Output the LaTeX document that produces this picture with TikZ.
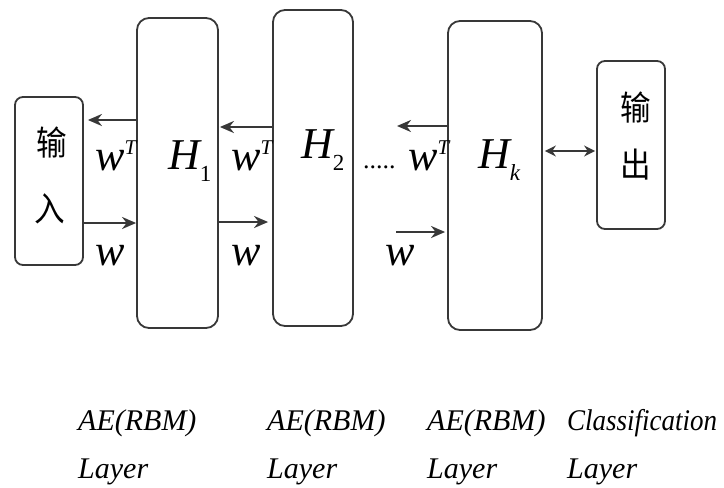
\documentclass[tikz,border=0pt]{standalone}
\usepackage{fontspec}
\setmainfont{Liberation Serif}
\newfontfamily\cjk{Noto Sans CJK SC}
\usetikzlibrary{arrows.meta}
\definecolor{edge}{HTML}{383838}
\tikzset{
  layerbox/.style={draw=edge, line width=1.8pt, rounded corners=12pt, inner sep=0pt},
  iobox/.style={draw=edge, line width=1.8pt, rounded corners=8pt, inner sep=0pt},
  arr/.style={draw=edge, line width=2.4pt, -{Stealth[length=14pt,width=12pt]}},
  darr/.style={draw=edge, line width=2.4pt, {Stealth[length=11pt,width=11pt]}-{Stealth[length=11pt,width=11pt]}},
  mlab/.style={font=\fontsize{44}{44}\selectfont\itshape, inner sep=0pt, anchor=base west},
  cjklab/.style={font=\cjk\fontsize{34}{34}\selectfont, inner sep=0pt, xscale=0.9},
  caption/.style={font=\fontsize{30}{30}\selectfont\itshape, inner sep=0pt, anchor=base west},
}
\newcommand{\supT}{\raisebox{16pt}{\fontsize{21}{21}\selectfont T}}
\newcommand{\subs}[1]{\raisebox{-12pt}{\fontsize{23}{23}\selectfont #1}}
\begin{document}
\begin{tikzpicture}[x=1pt,y=-1pt]
\useasboundingbox (0,0) rectangle (724,488);

% boxes
\node[iobox, minimum width=68pt, minimum height=168pt] (in) at (49,181) {};
\node[layerbox, minimum width=81pt, minimum height=310pt] (h1) at (177.5,173) {};
\node[layerbox, minimum width=80pt, minimum height=316pt] (h2) at (313,168) {};
\node[layerbox, minimum width=94pt, minimum height=309pt] (hk) at (495,175.5) {};
\node[iobox, minimum width=68pt, minimum height=168pt] (out) at (631,145) {};

% box texts
\node[cjklab] (in1) at (52,143) {输};
\node[cjklab] (in2) at (50,209) {入};
\node[cjklab] (out1) at (636,108) {输};
\node[cjklab] (out2) at (636,165) {出};

\node[mlab] (lh1) at (168,169) {H\subs{\upshape 1}};
\node[mlab] (lh2) at (301,158) {H\subs{\upshape 2}};
\node[mlab] (lhk) at (478,168) {H\subs{k}};

% weights between input and H1
\draw[arr, shorten >=4pt] (h1.west |- 0,120) -- (in.east |- 0,120);
\draw[arr] (in.east |- 0,223) -- (h1.west |- 0,223);
\node[mlab] (wt1) at (95,170) {w\supT};
\node[mlab] (w1) at (95,265) {w};

% weights between H1 and H2
\draw[arr, shorten >=1pt] (h2.west |- 0,127) -- (h1.east |- 0,127);
\draw[arr, shorten >=4pt] (h1.east |- 0,222) -- (h2.west |- 0,222);
\node[mlab] (wt2) at (231,170) {w\supT};
\node[mlab] (w2) at (231,265) {w};

% dots and weights towards Hk
\node[font=\fontsize{26}{26}\selectfont, inner sep=0pt, anchor=base west] (dots) at (363,168) {.....};
\coordinate (lend) at (397,126);
\coordinate (rstart) at (396,232);
\draw[arr] (hk.west |- lend) -- (lend);
\draw[arr, shorten >=2pt] (rstart) -- (hk.west |- rstart);
\node[mlab] (wt3) at (408,170) {w\supT};
\node[mlab] (w3) at (385,265) {w};

% Hk to output
\draw[darr, shorten <=2pt, shorten >=1pt] (hk.east |- 0,151) -- (out.west |- 0,151);

% captions
\node[caption] (c1a) at (78,430) {AE(RBM)};
\node[caption] (c1b) at (78,478) {Layer};
\node[caption] (c2a) at (267,430) {AE(RBM)};
\node[caption] (c2b) at (267,478) {Layer};
\node[caption] (c3a) at (427,430) {AE(RBM)};
\node[caption] (c3b) at (427,478) {Layer};
\node[caption, xscale=0.9] (c4a) at (567,430) {Classification};
\node[caption] (c4b) at (567,478) {Layer};
\end{tikzpicture}
\end{document}
